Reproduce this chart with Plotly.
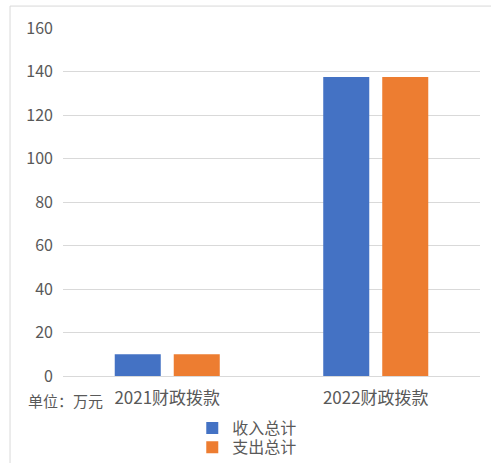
import plotly.graph_objects as go

categories = ["2021财政拨款", "2022财政拨款"]
income = [10, 137.5]
expense = [10, 137.5]
series_names = ["收入总计", "支出总计"]
y_ticks = [0, 20, 40, 60, 80, 100, 120, 140, 160]

FONT = "Noto Sans CJK SC"
GRAY = "#595959"

fig = go.Figure()
fig.add_trace(go.Bar(x=categories, y=income, name=series_names[0], legend="legend",
                     marker=dict(color="#4472C4", line=dict(width=0))))
fig.add_trace(go.Bar(x=categories, y=expense, name=series_names[1], legend="legend2",
                     marker=dict(color="#ED7D31", line=dict(width=0))))

leg_common = dict(orientation="v", x=0.31, xanchor="left", yanchor="top",
                  font=dict(size=16, color=GRAY), bgcolor="rgba(0,0,0,0)")

fig.update_layout(
    width=491, height=463,
    margin=dict(l=63, r=11, t=28, b=87, autoexpand=False),
    paper_bgcolor="white", plot_bgcolor="white",
    barmode="group", bargap=0.434, bargroupgap=0.22,
    font=dict(family=FONT, color=GRAY, size=16),
    showlegend=True,
    legend=dict(y=-0.101, **leg_common),
    legend2=dict(y=-0.156, **leg_common),
    xaxis=dict(showgrid=False, showline=False, zeroline=False, ticks="", automargin=False,
               tickfont=dict(size=17, color=GRAY), ticklabelstandoff=10, fixedrange=True),
    yaxis=dict(range=[0, 160], tickvals=y_ticks, showgrid=True, gridcolor="#d9d9d9", gridwidth=1,
               zeroline=True, zerolinecolor="#d9d9d9", zerolinewidth=1, showline=False, ticks="",
               automargin=False,
               tickfont=dict(size=16, color=GRAY), ticklabelstandoff=9, fixedrange=True),
    shapes=[dict(type="rect", xref="paper", yref="paper", x0=-0.127, x1=1.2, y0=-0.4, y1=1.063,
                 line=dict(color="#d9d9d9", width=1), fillcolor="rgba(0,0,0,0)", layer="below")],
    annotations=[dict(text="单位：万元", xref="paper", yref="paper", x=-0.0887, y=-0.0718,
                      xanchor="left", yanchor="middle", showarrow=False,
                      font=dict(size=15, color=GRAY, family=FONT))],
)

fig.write_html("out.html", config={"displayModeBar": False},
               post_script="document.body.style.margin='0px';")
